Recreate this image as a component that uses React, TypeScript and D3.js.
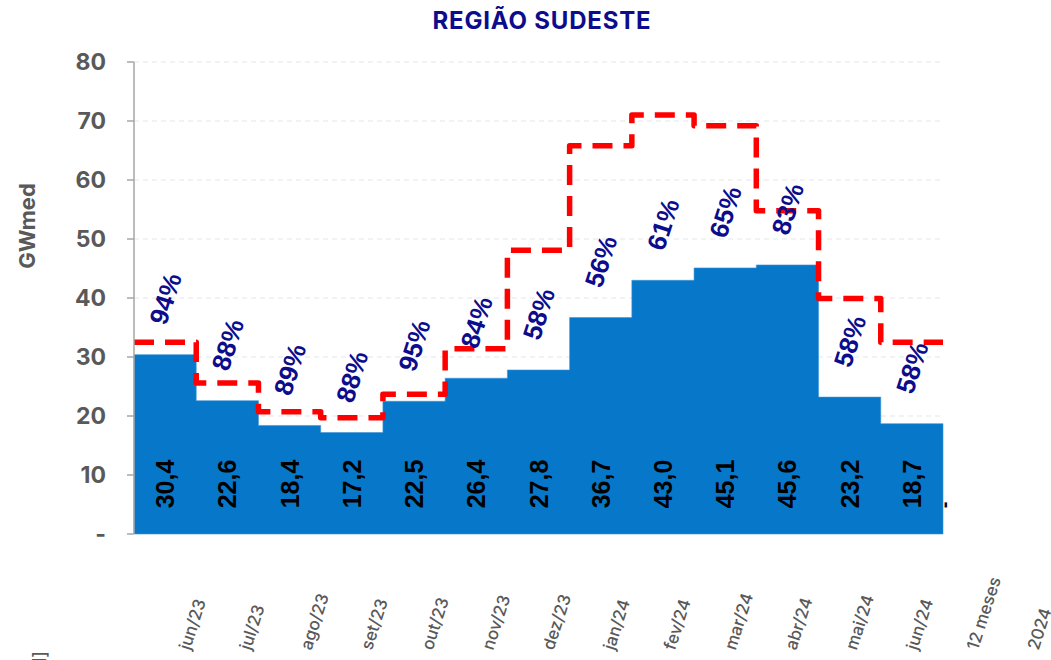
import React from "react";
import * as d3 from "d3";

const months = ["jun/23","jul/23","ago/23","set/23","out/23","nov/23","dez/23","jan/24","fev/24","mar/24","abr/24","mai/24","jun/24"];
const axisLabels = [...months, "12 meses", "2024"];
const generation = [30.4, 22.6, 18.4, 17.2, 22.5, 26.4, 27.8, 36.7, 43.0, 45.1, 45.6, 23.2, 18.7];
const reference = [32.5, 25.6, 20.7, 19.7, 23.7, 31.4, 48.1, 65.8, 71.0, 69.2, 54.8, 39.9, 32.5];
const percents = ["94%","88%","89%","88%","95%","84%","58%","56%","61%","65%","83%","58%","58%"];
const yTicks = [0, 10, 20, 30, 40, 50, 60, 70, 80];

const W = 1051, H = 660;
const left = 134, right = 943, top = 62, bottom = 534;

export default function App() {
  const x = d3.scaleBand<string>().domain(months).range([left, right]).padding(0);
  const y = d3.scaleLinear().domain([0, 80]).range([bottom, top]);
  const xl = d3.scalePoint<string>().domain(axisLabels).range([190, 190 + 14 * 60.6]);

  const pts: [number, number][] = months.map((m, i) => [x(m)!, generation[i]]);
  pts.push([right, generation[generation.length - 1]]);
  const area = d3.area<[number, number]>()
    .x(d => d[0]).y0(y(0)).y1(d => y(d[1])).curve(d3.curveStepAfter);

  const lpts: [number, number][] = months.map((m, i) => [x(m)!, reference[i]]);
  lpts.push([right, reference[reference.length - 1]]);
  const line = d3.line<[number, number]>()
    .x(d => d[0]).y(d => y(d[1])).curve(d3.curveStepAfter);

  const gray = "#595959";
  const navy = "#0c0c8c";

  return (
    <svg width={W} height={H} style={{ position: "absolute", left: 0, top: 0, background: "#fff" }}>
      <text x={542} y={29} textAnchor="middle" fontFamily="Inter, Roboto, sans-serif" fontWeight={700} fontSize={24} letterSpacing={0.8} fill={navy}>REGIÃO SUDESTE</text>
      {yTicks.filter(t => t > 0).map(t => (
        <line key={"g" + t} x1={left} x2={right + 1} y1={y(t)} y2={y(t)} stroke="#e1e6ec" strokeWidth={1} strokeDasharray="5,4" />
      ))}
      <path d={area(pts)!} fill="#0777c9" stroke="#3d95d6" strokeWidth={0.6} />
      <path d={line(lpts)!} fill="none" stroke="#ff0000" strokeWidth={5.5} strokeDasharray="20,11" strokeLinejoin="round" />
      <line x1={left} x2={left} y1={top} y2={bottom} stroke="#a6a6a6" strokeWidth={1.5} />
      {yTicks.map(t => (
        <g key={"t" + t}>
          <line x1={left - 7} x2={left} y1={y(t)} y2={y(t)} stroke="#a6a6a6" strokeWidth={1.5} />
          <text x={106} y={y(t)} dy="0.36em" textAnchor="end" fontFamily="Inter, Roboto, sans-serif" fontWeight={700} fontSize={23} fill={gray}>{t === 0 ? "-" : t}</text>
        </g>
      ))}
      <text transform={`translate(35,226) rotate(-90)`} textAnchor="middle" fontFamily="Inter, Roboto, sans-serif" fontWeight={700} fontSize={22} fill={gray}>GWmed</text>
      <text transform={`translate(46,651) rotate(-90)`} textAnchor="end" fontFamily="Inter, Roboto, sans-serif" fontWeight={500} fontSize={18} fill={gray}>Geração [GWmed]</text>
      {months.map((m, i) => (
        <text key={"v" + m} transform={`translate(${x(m)! + x.bandwidth() / 2},484) rotate(-90)`} textAnchor="middle" dy="0.36em" fontFamily="'Liberation Sans', Arial, sans-serif" fontWeight={700} fontSize={25} fill="#000">{generation[i].toFixed(1).replace(".", ",")}</text>
      ))}
      <text transform={`translate(944,505) rotate(-90)`} textAnchor="middle" dy="0.36em" fontFamily="'Liberation Sans', Arial, sans-serif" fontWeight={700} fontSize={20} fill="#000">-</text>
      {months.map((m, i) => (
        <text key={"p" + m} transform={`translate(${x(m)! + x.bandwidth() / 2},${y(generation[i]) - 56}) rotate(-72)`} textAnchor="middle" dy="0.36em" fontFamily="'Liberation Sans', Arial, sans-serif" fontWeight={700} fontSize={26} fill={navy}>{percents[i]}</text>
      ))}
      {axisLabels.map(l => (
        <text key={"x" + l} transform={`translate(${xl(l)},651) rotate(-72)`} textAnchor="start" fontFamily="Inter, 'Open Sans', sans-serif" fontWeight={500} fontSize={17} fill={gray}>{l}</text>
      ))}
    </svg>
  );
}
